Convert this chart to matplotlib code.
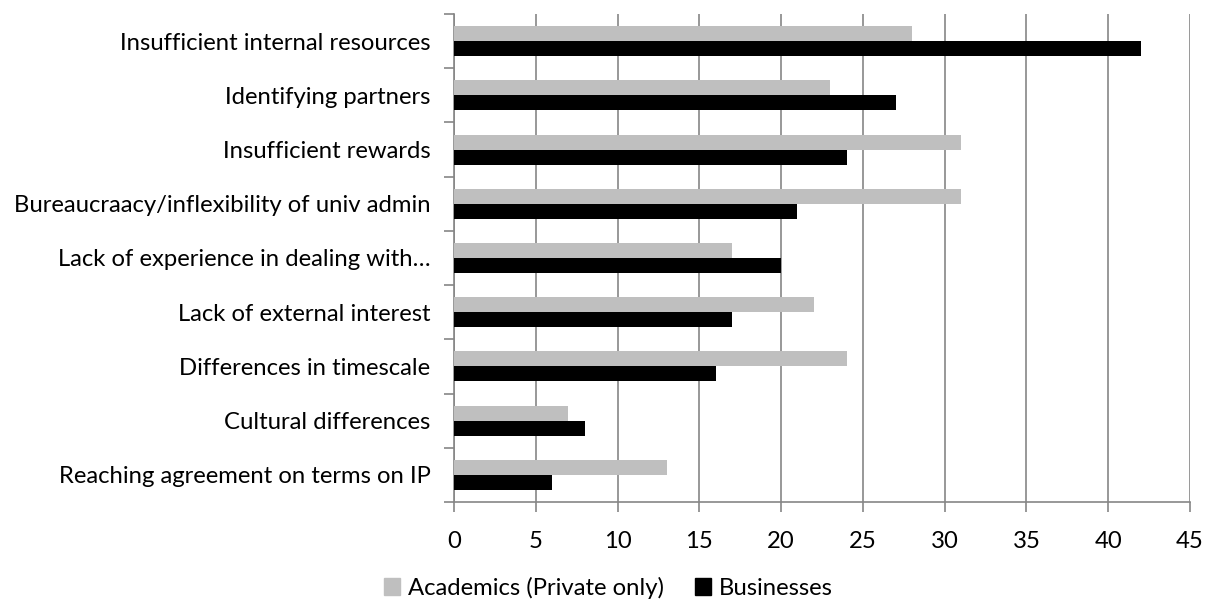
import matplotlib
matplotlib.use("Agg")
import matplotlib.pyplot as plt
import numpy as np
from matplotlib.patches import Patch

categories = [
    "Insufficient internal resources",
    "Identifying partners",
    "Insufficient rewards",
    "Bureaucraacy/inflexibility of univ admin",
    "Lack of experience in dealing with…",
    "Lack of external interest",
    "Differences in timescale",
    "Cultural differences",
    "Reaching agreement on terms on IP",
]
academics = [28, 23, 31, 31, 17, 22, 24, 7, 13]
businesses = [42, 27, 24, 21, 20, 17, 16, 8, 6]
xticks = [0, 5, 10, 15, 20, 25, 30, 35, 40, 45]

plt.rcParams['font.family'] = ['Lato', 'DejaVu Sans']
FS = 17.2

fig = plt.figure(figsize=(12.11, 6.02), dpi=100)
ax = fig.add_axes([454/1211, 1-502/602, (1190-454)/1211, (502-14)/602])

n = len(categories)
y = np.arange(n)[::-1].astype(float)
h = 0.277
ax.barh(y + h/2, academics, height=h, color='#bfbfbf', zorder=3)
ax.barh(y - h/2, businesses, height=h, color='black', zorder=3)

ax.set_xlim(0, 45)
ax.set_ylim(-0.5, n - 0.5)
ax.set_xticks(xticks)
ax.set_xticklabels([str(v) for v in xticks], fontsize=FS)
ax.set_yticks(y)
ax.set_yticklabels(categories, fontsize=FS)
ax.set_yticks(np.arange(n + 1) - 0.5, minor=True)
ax.tick_params(axis='y', which='major', length=0, pad=17)
ax.tick_params(axis='y', which='minor', length=7, color='#868686', width=1.2, direction='out')
ax.tick_params(axis='x', length=7, color='#868686', width=1.2, direction='out', pad=14)
ax.grid(axis='x', color='#868686', linewidth=1.2, zorder=0)
for s in ['top', 'right']:
    ax.spines[s].set_visible(False)
for s in ['left', 'bottom']:
    ax.spines[s].set_color('#868686')
    ax.spines[s].set_linewidth(1.2)

handles = [Patch(color='#bfbfbf', label='Academics (Private only)'),
           Patch(color='black', label='Businesses')]
fig.legend(handles=handles, loc='center', bbox_to_anchor=(608/1211, 1-588/602),
           ncol=2, frameon=False, fontsize=FS, handlelength=0.7, handleheight=0.7,
           handletextpad=0.3, columnspacing=1.3)

fig.savefig("out.png", dpi=100)
